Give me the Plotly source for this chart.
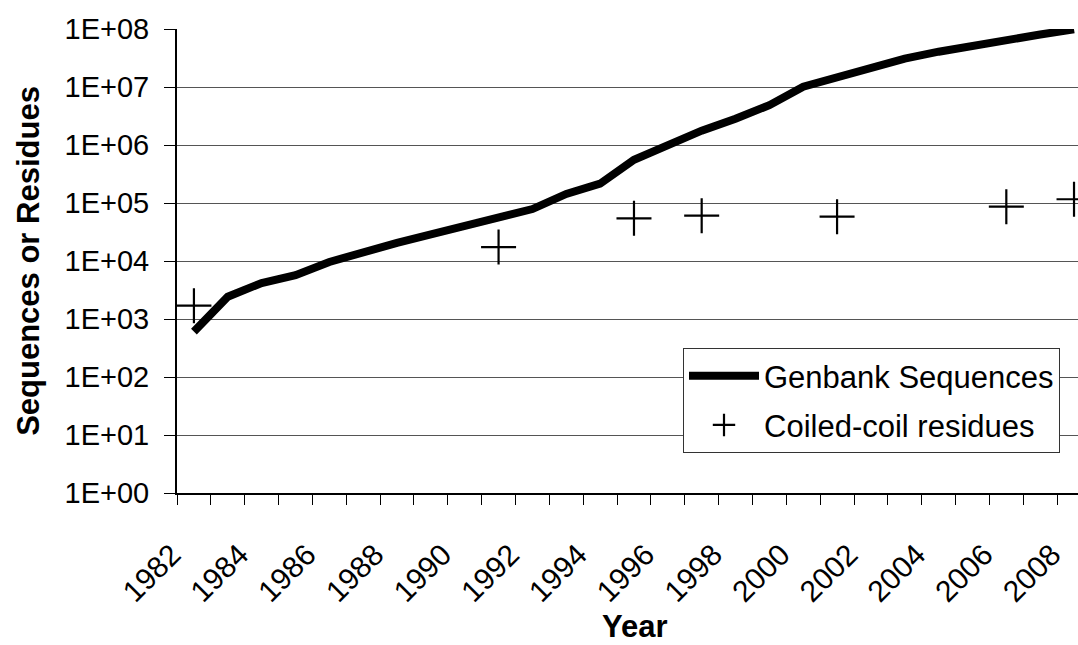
import plotly.graph_objects as go

years = list(range(1982, 2009))
genbank_sequences = [606, 2427, 4175, 5700, 9615, 14584, 20579, 28791, 39533,
                     55627, 78608, 143492, 215273, 555694, 1021211, 1765847,
                     2837897, 4864570, 10106023, 14976310, 22318883, 30968418,
                     40604319, 52016762, 64893747, 80388382, 98868465]

cc_years = [1982, 1991, 1995, 1997, 2001, 2006, 2008]
cc_residues = [1700, 17400, 54500, 60400, 58000, 86300, 116000]

x_tick_years = list(range(1982, 2009, 2))
x_tick_labels = [str(y) for y in x_tick_years]
y_tick_vals = [10 ** k for k in range(0, 9)]
y_tick_labels = ["1E+%02d" % k for k in range(0, 9)]

FONT = "Liberation Sans, Arial, sans-serif"

fig = go.Figure()
fig.add_trace(go.Scatter(
    x=years, y=genbank_sequences, mode="lines", name="Genbank Sequences",
    line=dict(color="black", width=8), legendgroup="a",
))
fig.add_trace(go.Scatter(
    x=cc_years, y=cc_residues, mode="markers", name="Coiled-coil residues",
    marker=dict(symbol="cross-thin", size=25, line=dict(color="black", width=2.2)),
    legendgroup="b", cliponaxis=False,
))

fig.update_layout(
    width=1078, height=645,
    margin=dict(l=177, r=0, t=29, b=152, autoexpand=False),
    paper_bgcolor="white", plot_bgcolor="white",
    font=dict(family=FONT, color="black", size=28),
    showlegend=True,
    legend=dict(
        x=(683 - 177) / 901, y=(493 - 348) / 464, xanchor="left", yanchor="top",
        bgcolor="white", bordercolor="#333", borderwidth=1,
        font=dict(size=31), tracegroupgap=6, itemwidth=70,
        traceorder="grouped",
    ),
    annotations=[dict(
        text="<b>Year</b>", xref="paper", yref="paper",
        x=(635 - 177) / 901, y=(493 - 626) / 464, xanchor="center", yanchor="middle",
        showarrow=False, font=dict(size=31),
    )],
)

fig.update_xaxes(
    range=[1981.5, 1981.5 + 901 / 33.85],
    tickmode="array", tickvals=x_tick_years, ticktext=x_tick_labels,
    tickangle=-45, ticks="", showgrid=False,
    showline=True, linecolor="black", linewidth=2,
    tickfont=dict(size=30),
    ticklabelstandoff=30, ticklabelshift=-22, ticklabeloverflow="allow",
    minor=dict(tickmode="linear", tick0=1981.5, dtick=1, ticks="outside",
               ticklen=10, tickwidth=1, tickcolor="black", showgrid=False),
    zeroline=False,
)
fig.update_yaxes(
    type="log", range=[0, 8],
    tickmode="array", tickvals=y_tick_vals, ticktext=y_tick_labels,
    ticks="outside", ticklen=11, tickcolor="black", tickwidth=1,
    ticklabelstandoff=9,
    showgrid=True, gridcolor="#555", gridwidth=1,
    showline=True, linecolor="black", linewidth=2,
    tickfont=dict(size=29),
    title=dict(text="<b>Sequences or Residues</b>", font=dict(size=31), standoff=16),
    zeroline=False,
)

fig.write_html("out.html")
